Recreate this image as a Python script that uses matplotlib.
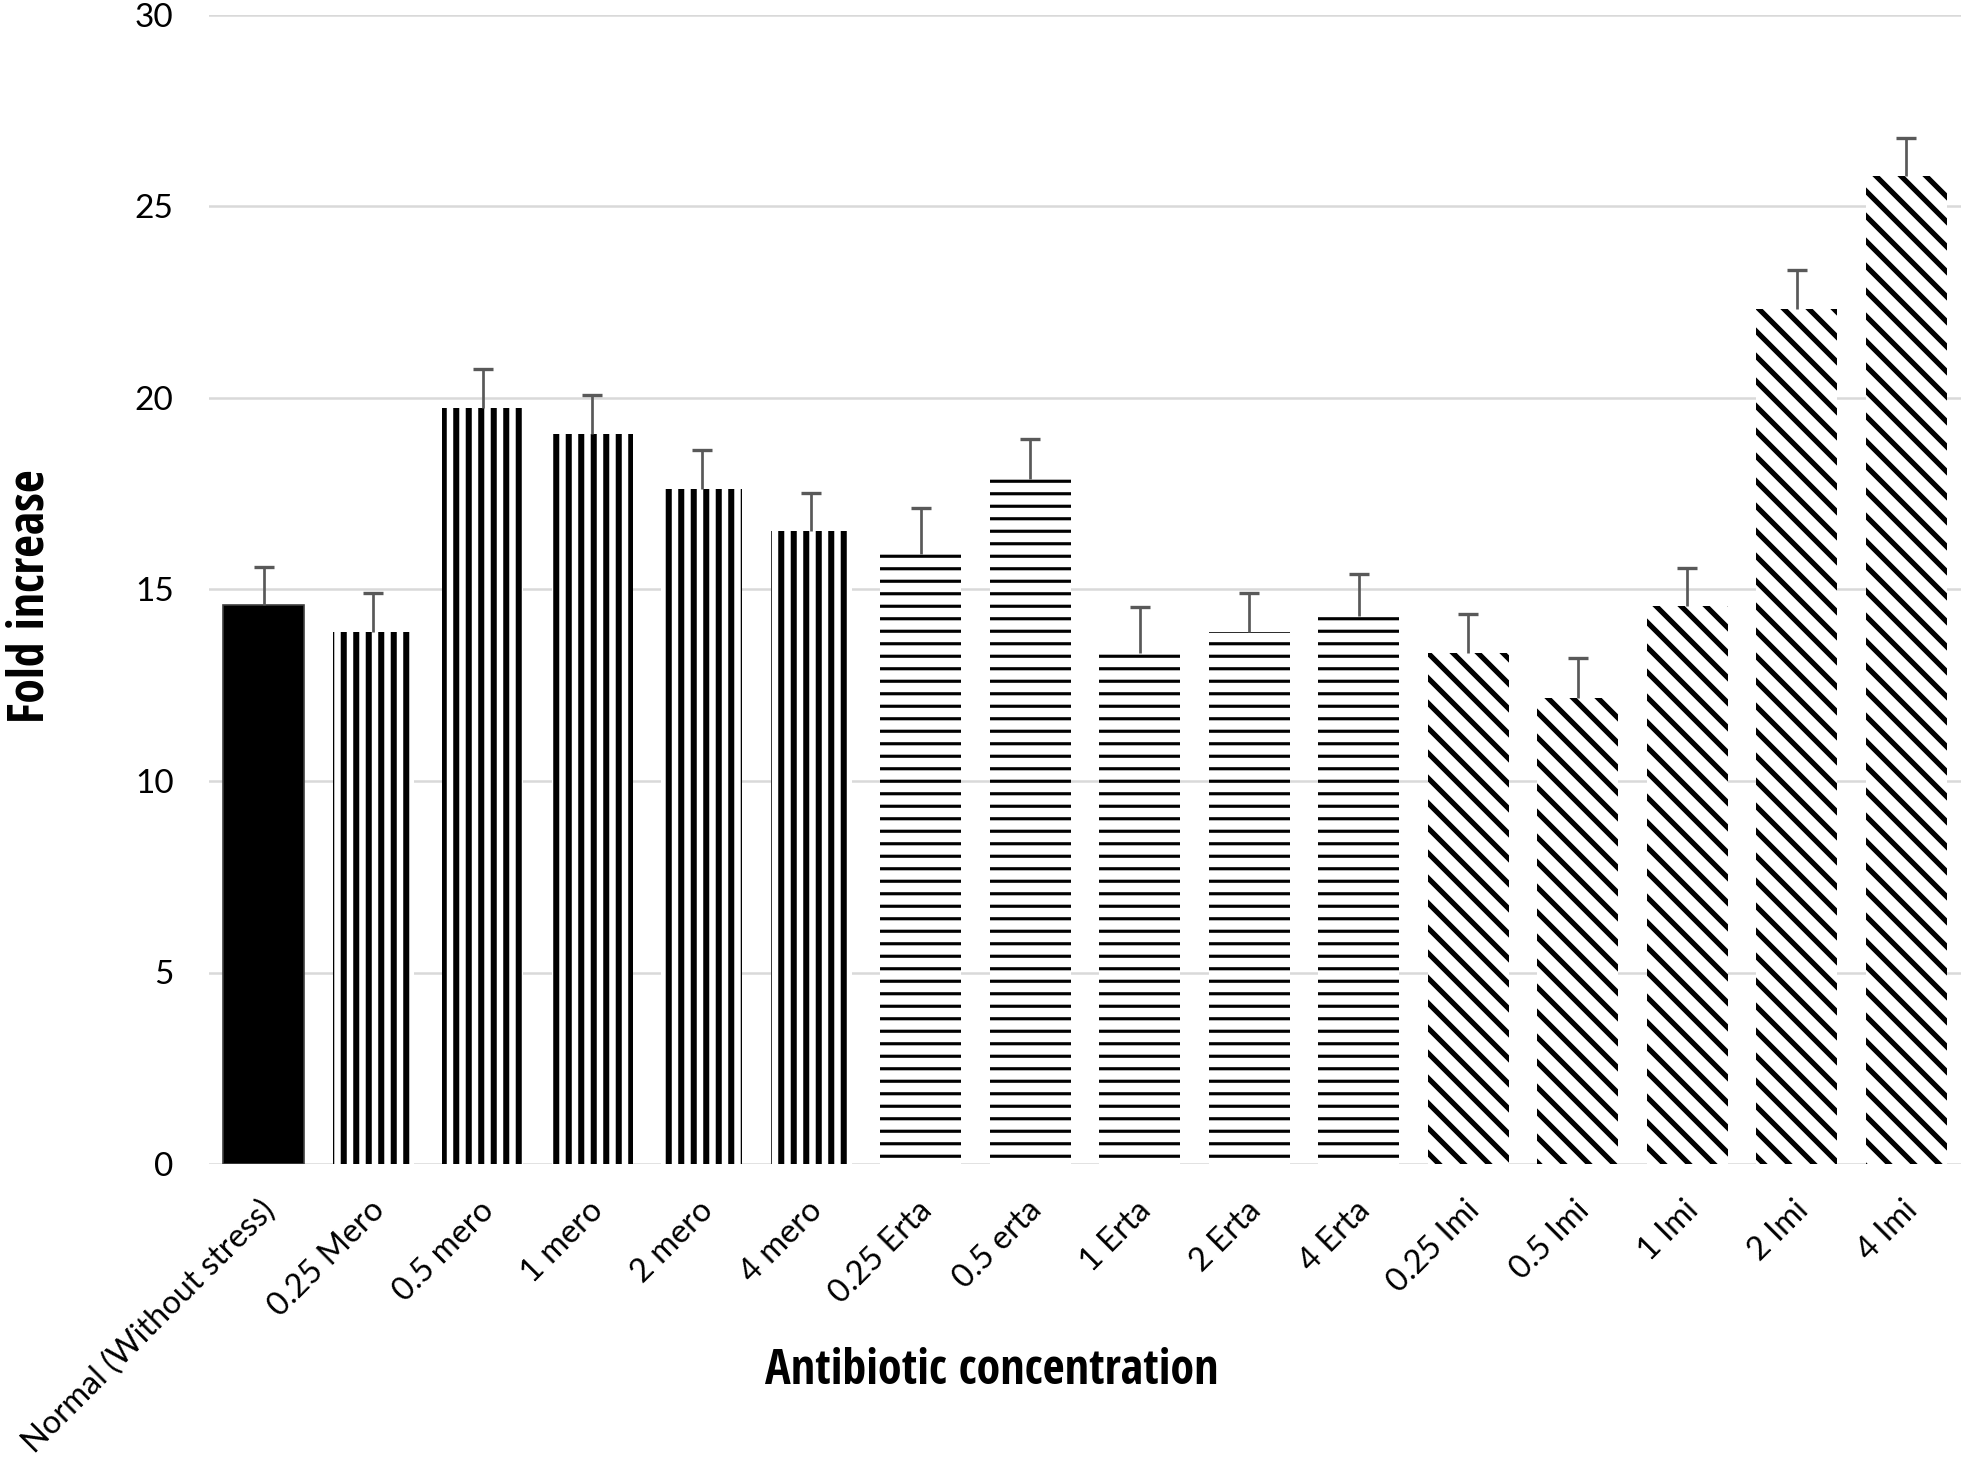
import matplotlib
matplotlib.use("Agg")
import matplotlib.pyplot as plt
import matplotlib.transforms as mtransforms
from matplotlib import font_manager as fm
import numpy as np

DPI = 150

labels = ["Normal (Without stress)", "0.25 Mero", "0.5 mero", "1 mero", "2 mero", "4 mero",
          "0.25 Erta", "0.5 erta", "1 Erta", "2 Erta", "4 Erta",
          "0.25 Imi", "0.5 Imi", "1 Imi", "2 Imi", "4 Imi"]
fold = [14.6, 13.9, 19.75, 19.07, 17.63, 16.53,
        15.93, 17.89, 13.35, 13.9, 14.3,
        13.35, 12.18, 14.56, 22.33, 25.8]
err = [1.0, 1.0, 1.0, 1.0, 1.0, 1.0,
       1.2, 1.05, 1.2, 1.02, 1.1,
       1.0, 1.02, 1.0, 1.0, 1.0]
group = ["normal", "mero", "mero", "mero", "mero", "mero",
         "erta", "erta", "erta", "erta", "erta",
         "imi", "imi", "imi", "imi", "imi"]

# hatch + hatch linewidth per group
styles = {
    "normal": (None, 1.0),
    "mero": ("||", 2.9),
    "erta": ("--", 1.5),
    "imi": ("\\\\", 2.5),
}


def weight_num(w):
    if isinstance(w, str):
        return fm.weight_dict.get(w, 400)
    return w


# look for a condensed bold face for the axis titles
def find_condensed():
    prefs = ["agency", "oswald", "bebas", "open sans cond", "roboto cond", "narrow", "condensed"]
    found = []
    for f in fm.fontManager.ttflist:
        name = f.name.lower()
        fn = f.fname.lower()
        cond = ("condensed" in name or "narrow" in name or "cond" in fn or "narrow" in fn
                or f.stretch in ("condensed", "semi-condensed", "extra-condensed", "ultra-condensed"))
        bold = weight_num(f.weight) >= 600 or "bold" in fn
        if cond and bold and "italic" not in fn and "oblique" not in fn:
            found.append(f)
    for p in prefs:
        for f in found:
            if p in f.name.lower() or p in f.fname.lower():
                return fm.FontProperties(fname=f.fname)
    return None


plt.rcParams["font.family"] = ["Lato", "DejaVu Sans"]

fig = plt.figure(figsize=(1961 / DPI, 1470 / DPI), dpi=DPI)
ax = fig.add_axes([209 / 1961, 1 - 1164 / 1470, 1 - 209 / 1961, (1164 - 15) / 1470])

x = np.arange(len(labels))
for i in range(len(labels)):
    h, lw = styles[group[i]]
    plt.rcParams["hatch.linewidth"] = lw
    if h is None:
        b = ax.bar(x[i], fold[i], width=0.74, color="black", edgecolor="#404040", linewidth=0.8, zorder=2)
    else:
        b = ax.bar(x[i], fold[i], width=0.74, facecolor="white", edgecolor="black",
                   linewidth=0, hatch=h, zorder=2)
        for p in b.patches:
            if hasattr(p, "set_hatch_linewidth"):
                p.set_hatch_linewidth(lw)

# error bars (upper only)
tops = np.array(fold) + np.array(err)
ax.vlines(x, fold, tops, color="#595959", linewidth=1.3, zorder=3)
ax.plot(x, tops, linestyle="none", marker="_", markersize=9.5, markeredgewidth=1.6,
        color="#595959", zorder=3)

ax.set_xlim(-0.5, len(labels) - 0.5)
ax.set_ylim(0, 30)
ax.set_yticks(np.arange(0, 31, 5))
ax.yaxis.grid(True, color="#d9d9d9", linewidth=1.2, zorder=0)
ax.set_axisbelow(True)
for s in ax.spines.values():
    s.set_visible(False)
ax.tick_params(axis="y", length=0, pad=17, labelsize=16)
ax.set_xticks([])

# rotated category labels, baseline end just under each bar
off = mtransforms.ScaledTranslation(13 / DPI, -48 / DPI, fig.dpi_scale_trans)
for i, lbl in enumerate(labels):
    ax.text(x[i], 0, lbl, transform=ax.get_xaxis_transform() + off,
            rotation=45, rotation_mode="anchor", ha="right", va="baseline",
            fontsize=15.6, color="black")

fp = find_condensed()
if fp is None:
    fp = fm.FontProperties(family=["Roboto", "DejaVu Sans"], weight="bold")
xl = fig.text(992 / 1961, 1 - 1372 / 1470, "Antibiotic concentration", ha="center", va="center",
              fontproperties=fp, fontsize=21)
yl = fig.text(31 / 1961, 1 - 596 / 1470, "Fold increase", rotation=90, ha="center", va="center",
              fontproperties=fp, fontsize=21)

# size the axis titles to the reference lengths
fig.canvas.draw()
r = fig.canvas.get_renderer()
wx = xl.get_window_extent(r).width
hy = yl.get_window_extent(r).height
xl.set_fontsize(min(30, 21 * 454 / wx))
yl.set_fontsize(min(30, 21 * 254 / hy))

fig.savefig("out.png", dpi=DPI)
